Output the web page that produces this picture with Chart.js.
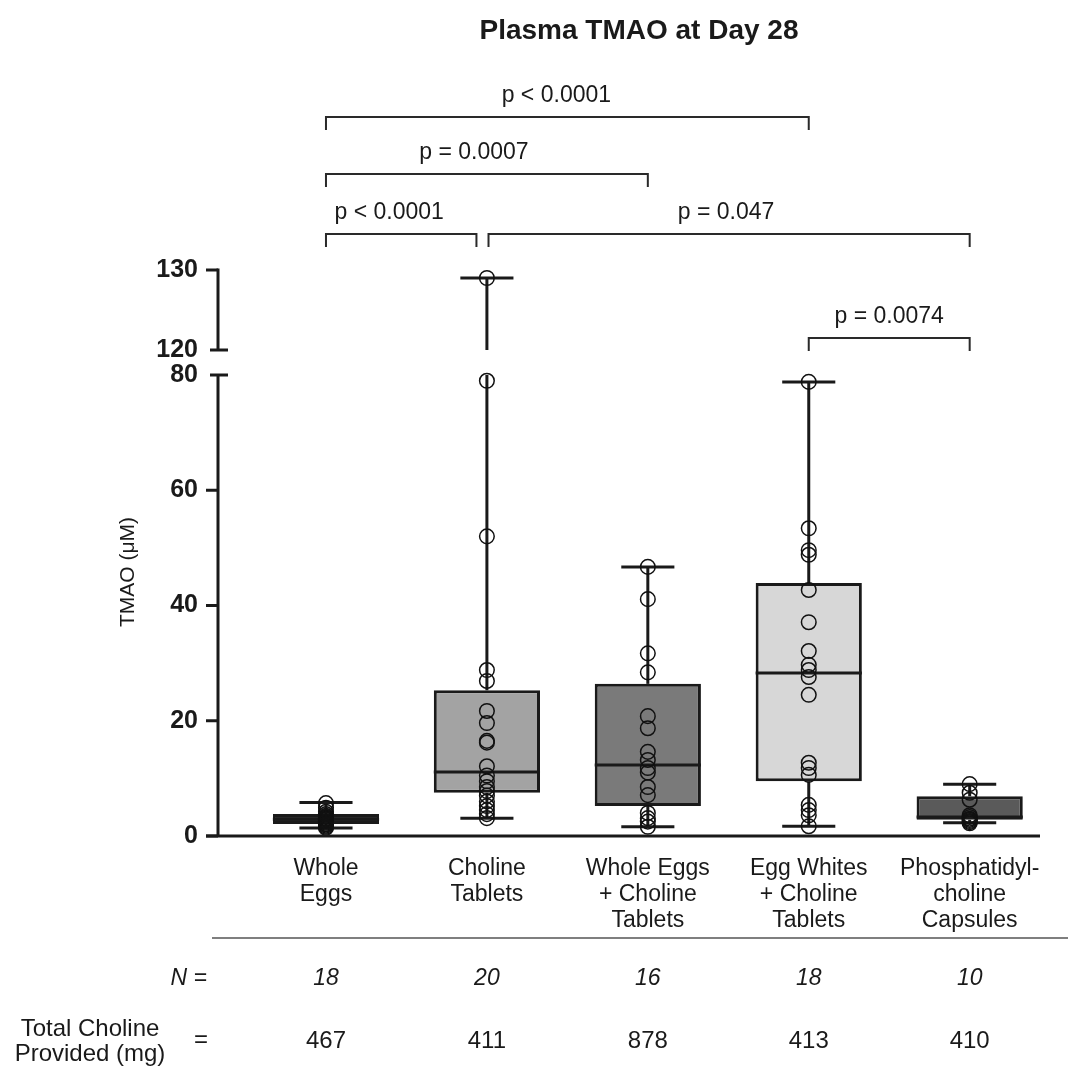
<!DOCTYPE html>
<html>
<head>
<meta charset="utf-8">
<script src="https://cdn.jsdelivr.net/npm/chart.js@4.4.0/dist/chart.umd.min.js"></script>
<style>
html,body{margin:0;padding:0;background:#fff;}
#wrap{width:1068px;height:1068px;position:relative;}
</style>
</head>
<body>
<div id="wrap"><canvas id="c"></canvas></div>
<script>
// ---------------- DATA ----------------
const categories = [
  ["Whole", "Eggs"],
  ["Choline", "Tablets"],
  ["Whole Eggs", "+ Choline", "Tablets"],
  ["Egg Whites", "+ Choline", "Tablets"],
  ["Phosphatidyl-", "choline", "Capsules"]
];
const groupIndex = [0, 1, 2, 3, 4];
const q1Values     = [2.1, 7.5, 5.2, 9.5, 2.8];
const medianValues = [2.9, 11.1, 12.3, 28.3, 3.3];
const q3Values     = [3.8, 25.3, 26.4, 43.9, 6.9];
const minValues    = [1.4, 3.1, 1.6, 1.7, 2.3];
const maxValues    = [5.8, 129, 46.7, 78.8, 9.0];

const wholeEggsPoints        = [5.7, 4.9, 4.2, 3.8, 3.5, 3.3, 3.1, 3.0, 2.9, 2.8, 2.6, 2.5, 2.3, 2.1, 2.0, 1.8, 1.6, 1.4];
const cholineTabletPoints    = [129, 79, 52, 28.8, 26.9, 21.7, 19.6, 16.5, 16.2, 12.1, 10.5, 9.5, 8.5, 7.8, 7.0, 6.0, 5.2, 4.5, 3.8, 3.1];
const wholeEggsCholinePoints = [46.7, 41.1, 31.7, 28.4, 20.8, 18.7, 14.6, 13.2, 11.8, 11.0, 8.5, 7.1, 4.0, 3.1, 2.5, 1.6];
const eggWhitesCholinePoints = [78.8, 53.4, 49.6, 48.8, 42.7, 37.1, 32.1, 29.7, 28.8, 27.6, 24.5, 12.7, 11.8, 10.6, 5.4, 4.5, 3.6, 1.7];
const phosphatidylcholinePoints = [9.0, 7.5, 6.3, 3.6, 3.3, 3.0, 2.8, 2.6, 2.4, 2.2];
const groupPoints = [wholeEggsPoints, cholineTabletPoints, wholeEggsCholinePoints, eggWhitesCholinePoints, phosphatidylcholinePoints];

const nValues = [18, 20, 16, 18, 10];
const cholineProvidedMg = [467, 411, 878, 413, 410];

const yTickValues = [0, 20, 40, 60, 80, 120, 130];
const lowerMax = 80, upperMin = 120, upperMax = 130;

const comparisonFrom   = [0, 0, 0, 1, 3];
const comparisonTo     = [3, 2, 1, 4, 4];
const comparisonLabels = ["p < 0.0001", "p = 0.0007", "p < 0.0001", "p = 0.047", "p = 0.0074"];

// ---------------- STYLE / LAYOUT ----------------
const boxColors = ["#2c2c2c", "#a3a3a3", "#7a7a7a", "#d7d7d7", "#5a5a5a"];
const FONT = '"Liberation Sans", Arial, Helvetica, sans-serif';
const INK = "#1a1a1a";
const AREA = { left: 218, top: 270, right: 1040, bottom: 836 };
const GAP_PX = 25, UPPER_PX = 80;
const LOWER_PX = (AREA.bottom - AREA.top) - GAP_PX - UPPER_PX;
const UNIT = LOWER_PX / lowerMax;
const BREAK_V = lowerMax + GAP_PX / UNIT;
const UPPER_K = (UPPER_PX / UNIT) / (upperMax - upperMin);
const V_MAX = (AREA.bottom - AREA.top) / UNIT;
const T = v => v <= lowerMax ? v : BREAK_V + (v - upperMin) * UPPER_K;

const X_MIN = -0.671, X_MAX = 4.437;
const CAP_W = 0.33;
const bracketY = [117, 174, 234, 234, 338];
const bracketEndAdj = [[0, 0], [0, 0], [0, -0.065], [0.01, 0], [0, 0]];
const bracketTextDx = [-11, -13, -12, -3, 0];

// ---------------- CHART ----------------
const pointData = [];
groupIndex.forEach(i => groupPoints[i].forEach(v => pointData.push({ x: i, y: T(v) })));

const decor = {
  id: "decor",
  afterDatasetDraw(chart, args) {
    if (args.index !== 0) return;
    const { ctx, scales: { x, y } } = chart;
    const meta = chart.getDatasetMeta(0);
    ctx.save();
    ctx.strokeStyle = INK;
    ctx.lineWidth = 3;
    const line = (x1, y1, x2, y2) => { ctx.beginPath(); ctx.moveTo(x1, y1); ctx.lineTo(x2, y2); ctx.stroke(); };
    const capHalf = (x.getPixelForValue(CAP_W) - x.getPixelForValue(0)) / 2;
    groupIndex.forEach(i => {
      const cx = x.getPixelForValue(i);
      const py = v => y.getPixelForValue(T(v));
      if (maxValues[i] > lowerMax) {
        line(cx, py(maxValues[i]), cx, py(upperMin));
        line(cx, py(lowerMax), cx, py(q3Values[i]));
      } else {
        line(cx, py(maxValues[i]), cx, py(q3Values[i]));
      }
      line(cx, py(q1Values[i]), cx, py(minValues[i]));
      [minValues[i], maxValues[i]].forEach(v => line(cx - capHalf, py(v), cx + capHalf, py(v)));
      const half = meta.data[i].width / 2;
      line(cx - half, py(medianValues[i]), cx + half, py(medianValues[i]));
    });
    ctx.restore();
  },
  afterDraw(chart) {
    const { ctx, scales: { x, y }, chartArea } = chart;
    ctx.save();
    ctx.strokeStyle = INK;
    ctx.fillStyle = INK;
    const line = (x1, y1, x2, y2) => { ctx.beginPath(); ctx.moveTo(x1, y1); ctx.lineTo(x2, y2); ctx.stroke(); };
    const ax = chartArea.left;
    // y axis (broken)
    ctx.lineWidth = 3;
    line(ax, y.getPixelForValue(T(upperMax)) - 1.5, ax, y.getPixelForValue(T(upperMin)));
    line(ax, y.getPixelForValue(T(lowerMax)), ax, chartArea.bottom);
    yTickValues.forEach(v => {
      const py = y.getPixelForValue(T(v));
      if (v === lowerMax || v === upperMin) line(ax - 8, py, ax + 10, py);
      else line(ax - 12, py, ax, py);
    });
    // x axis
    line(ax - 12, chartArea.bottom, chartArea.right, chartArea.bottom);

    // title
    ctx.textAlign = "center";
    ctx.textBaseline = "middle";
    ctx.font = `bold 28px ${FONT}`;
    ctx.fillText("Plasma TMAO at Day 28", 639, 31);

    // y title
    ctx.save();
    ctx.translate(128, 572);
    ctx.rotate(-Math.PI / 2);
    ctx.font = `21px ${FONT}`;
    ctx.fillText("TMAO (\u03bcM)", 0, 0);
    ctx.restore();

    // significance brackets
    ctx.lineWidth = 2;
    ctx.strokeStyle = "#2a2a2a";
    ctx.font = `23px ${FONT}`;
    comparisonLabels.forEach((lab, k) => {
      const x1 = x.getPixelForValue(comparisonFrom[k] + bracketEndAdj[k][0]);
      const x2 = x.getPixelForValue(comparisonTo[k] + bracketEndAdj[k][1]);
      const by = bracketY[k];
      ctx.beginPath();
      ctx.moveTo(x1, by + 13); ctx.lineTo(x1, by); ctx.lineTo(x2, by); ctx.lineTo(x2, by + 13);
      ctx.stroke();
      ctx.fillText(lab, (x1 + x2) / 2 + bracketTextDx[k], by - 21);
    });

    // separator line
    ctx.strokeStyle = "#555";
    ctx.lineWidth = 1.5;
    line(212, 938, 1068, 938);

    // N row
    ctx.font = `italic 23px ${FONT}`;
    ctx.textAlign = "right";
    ctx.fillText("N =", 207, 979);
    ctx.textAlign = "center";
    groupIndex.forEach(i => ctx.fillText(String(nValues[i]), x.getPixelForValue(i), 979));

    // Total choline row
    ctx.font = `24px ${FONT}`;
    ctx.fillText("Total Choline", 90, 1029);
    ctx.fillText("Provided (mg)", 90, 1054);
    ctx.fillText("=", 201, 1040);
    groupIndex.forEach(i => ctx.fillText(String(cholineProvidedMg[i]), x.getPixelForValue(i), 1041));
    ctx.restore();
  }
};

new Chart(document.getElementById("c"), {
  type: "bar",
  data: {
    datasets: [
      {
        type: "bar",
        data: groupIndex.map(i => ({ x: i, y: [q1Values[i], q3Values[i]] })),
        backgroundColor: boxColors,
        borderColor: INK,
        borderWidth: 3,
        borderSkipped: false,
        categoryPercentage: 1,
        barPercentage: 0.66,
        order: 2
      },
      {
        type: "scatter",
        data: pointData,
        pointStyle: "circle",
        pointRadius: 7.3,
        pointBorderWidth: 1.5,
        borderColor: "#111",
        backgroundColor: "rgba(0,0,0,0)",
        pointBackgroundColor: "rgba(0,0,0,0)",
        pointBorderColor: "#111",
        showLine: false,
        clip: false,
        order: 0
      }
    ]
  },
  options: {
    responsive: true,
    maintainAspectRatio: false,
    animation: false,
    events: [],
    devicePixelRatio: 1,
    layout: { padding: { left: 0, top: AREA.top, right: 1068 - AREA.right, bottom: 0 } },
    plugins: { legend: { display: false }, tooltip: { enabled: false }, title: { display: false } },
    scales: {
      x: {
        type: "linear",
        offset: false,
        min: X_MIN, max: X_MAX,
        grid: { display: false },
        border: { display: false },
        afterBuildTicks: s => { s.ticks = groupIndex.map(v => ({ value: v })); },
        afterFit: s => { s.height = 1068 - AREA.bottom; },
        ticks: {
          autoSkip: false, maxRotation: 0, minRotation: 0,
          padding: 12,
          color: INK,
          font: { family: FONT, size: 23, lineHeight: 26 / 23 },
          callback: (v, idx) => categories[idx]
        }
      },
      y: {
        type: "linear",
        min: 0, max: V_MAX,
        grid: { display: false },
        border: { display: false },
        afterBuildTicks: s => { s.ticks = yTickValues.map(v => ({ value: T(v) })); },
        afterFit: s => { s.width = AREA.left; },
        ticks: {
          padding: 12,
          color: INK,
          font: { family: FONT, size: 25, weight: "bold" },
          callback: (v, idx) => String(yTickValues[idx])
        }
      }
    }
  },
  plugins: [decor]
});
</script>
</body>
</html>
